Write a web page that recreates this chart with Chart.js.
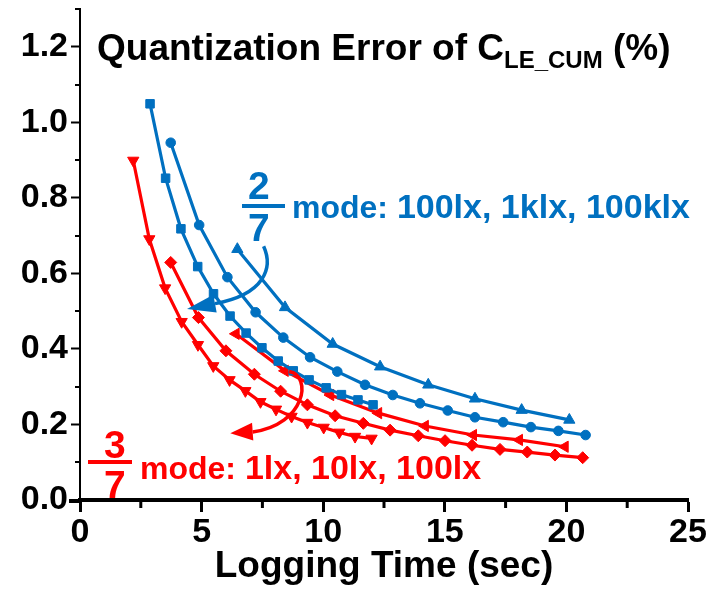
<!DOCTYPE html>
<html><head><meta charset="utf-8">
<script src="https://cdn.jsdelivr.net/npm/chart.js@4.4.1/dist/chart.umd.min.js"></script>
<style>
html,body{margin:0;padding:0;background:#fff;}
#wrap{position:relative;width:715px;height:591px;font-family:"Liberation Sans",Arial,sans-serif;font-weight:bold;overflow:hidden;}
#c{position:absolute;left:0;top:0;}
.lbl{position:absolute;white-space:nowrap;line-height:1;}
.bar{position:absolute;height:4px;}
</style></head><body>
<div id="wrap">
<canvas id="c" width="715" height="591"></canvas>
<div class="lbl" style="left:97px;top:29px;font-size:37px;color:#000;">Quantization Error of C<span style="font-size:24px;position:relative;top:8px;">LE_CUM</span><span> (%)</span></div>

<div class="lbl" style="left:248px;top:166px;font-size:39px;color:#0070C0;">2</div>
<div class="bar" style="left:242px;top:204px;width:43px;background:#0070C0;"></div>
<div class="lbl" style="left:248px;top:208px;font-size:39px;color:#0070C0;">7</div>
<div class="lbl" style="left:292px;top:189px;font-size:32px;color:#0070C0;">mode<span>:</span> <span style="font-size:34px;">100lx, 1klx, 100klx</span></div>

<div class="lbl" style="left:104px;top:425px;font-size:39px;color:#FF0000;">3</div>
<div class="bar" style="left:88px;top:460px;width:44px;background:#FF0000;"></div>
<div class="lbl" style="left:104px;top:465px;font-size:39px;color:#FF0000;">7</div>
<div class="lbl" style="left:140px;top:450px;font-size:32px;color:#FF0000;">mode<span>:</span> <span style="font-size:34px;">1lx, 10lx, 100lx</span></div>
</div>
<script>
// ---- data (x = logging time in sec, y = quantization error in %) ----
const blue100lxX = [2.88,3.52,4.15,4.84,5.49,6.17,6.83,7.48,8.15,8.77,9.42,10.12,10.75,11.43,12.05];
const blue100lxY = [1.049,0.852,0.718,0.618,0.546,0.487,0.442,0.403,0.368,0.342,0.318,0.297,0.279,0.265,0.252];
const blue1klxX = [3.73,4.90,6.06,7.22,8.36,9.46,10.58,11.72,12.86,13.98,15.12,16.24,17.40,18.54,19.67,20.79];
const blue1klxY = [0.946,0.728,0.590,0.497,0.430,0.378,0.340,0.305,0.278,0.256,0.237,0.219,0.206,0.193,0.183,0.172];
const blue100klxX = [6.47,8.43,10.39,12.34,14.32,16.24,18.16,20.12];
const blue100klxY = [0.664,0.510,0.413,0.353,0.305,0.268,0.238,0.212];
const red1lxX = [2.19,2.85,3.50,4.18,4.85,5.48,6.15,6.80,7.42,8.06,8.70,9.35,10.02,10.66,11.31,11.99];
const red1lxY = [0.899,0.691,0.561,0.472,0.411,0.355,0.318,0.289,0.260,0.240,0.221,0.205,0.192,0.179,0.168,0.163];
const red10lxX = [3.73,4.87,6.00,7.17,8.25,9.35,10.49,11.65,12.75,13.91,15.01,16.12,17.27,18.39,19.53,20.67];
const red10lxY = [0.629,0.483,0.395,0.333,0.288,0.252,0.223,0.203,0.185,0.170,0.157,0.145,0.134,0.127,0.119,0.112];
const red100lxX = [6.41,8.43,10.30,12.27,14.19,16.17,18.06,19.94];
const red100lxY = [0.440,0.342,0.278,0.230,0.196,0.172,0.159,0.141];

const xMajorTicks = [0,5,10,15,20,25];
const yMajorTicks = [0.0,0.2,0.4,0.6,0.8,1.0,1.2];

const BLUE = '#0070C0', RED = '#FF0000';
const FONT = '"Liberation Sans", Arial, sans-serif';

function pts(xs, ys){ return xs.map((x,i)=>({x, y: ys[i]})); }
function ds(label, xs, ys, color, style, rot, r){
  return {label, data: pts(xs,ys), borderColor: color, backgroundColor: color,
    showLine: true, borderWidth: 3.2, tension: 0, pointStyle: style, pointRotation: rot,
    pointRadius: r, pointHoverRadius: r, pointBorderWidth: 1};
}

const minorTicks = {
  id: 'minorTicks',
  afterDraw(chart){
    const ctx = chart.ctx, xs = chart.scales.x, ys = chart.scales.y, ca = chart.chartArea;
    ctx.save();
    ctx.strokeStyle = '#000';
    ctx.lineWidth = 2;
    for (let v = 0.1; v < 1.35; v += 0.2){
      const p = Math.round(ys.getPixelForValue(v));
      ctx.beginPath(); ctx.moveTo(ca.left - 5, p); ctx.lineTo(ca.left, p); ctx.stroke();
    }
    ctx.lineWidth = 3;
    for (let v = 2.5; v < 25; v += 5){
      const p = xs.getPixelForValue(v);
      ctx.beginPath(); ctx.moveTo(p, ca.bottom); ctx.lineTo(p, ca.bottom + 8); ctx.stroke();
    }
    ctx.lineWidth = 4;
    ctx.beginPath(); ctx.moveTo(ca.left - 11, ca.bottom + 1); ctx.lineTo(ca.left, ca.bottom + 1); ctx.stroke();
    ctx.restore();
  }
};

function arrow(ctx, color, P, head){
  ctx.save();
  ctx.strokeStyle = color; ctx.fillStyle = color; ctx.lineWidth = 3.5;
  ctx.beginPath(); ctx.moveTo(P[0][0],P[0][1]);
  ctx.bezierCurveTo(P[1][0],P[1][1],P[2][0],P[2][1],P[3][0],P[3][1]);
  ctx.stroke();
  const [tx,ty,bx,by,hw] = head;
  const dx = tx-bx, dy = ty-by, L = Math.hypot(dx,dy), nx = -dy/L, ny = dx/L;
  ctx.beginPath(); ctx.moveTo(tx,ty); ctx.lineTo(bx+nx*hw, by+ny*hw); ctx.lineTo(bx-nx*hw, by-ny*hw); ctx.closePath(); ctx.fill();
  ctx.restore();
}
const arrows = {
  id: 'arrows',
  afterDatasetsDraw(chart){
    const xs = chart.scales.x, ys = chart.scales.y;
    const m = (x,y)=>[xs.getPixelForValue(x), ys.getPixelForValue(y)];
    const ctx = chart.ctx;
    const b = [m(7.55,0.672), m(7.95,0.615), m(7.60,0.545), m(5.55,0.520)];
    const bt = m(4.40,0.506), bb = m(5.55,0.520);
    arrow(ctx, BLUE, b, [bt[0],bt[1],bb[0],bb[1],9]);
    const r = [m(8.60,0.340), m(9.55,0.330), m(9.30,0.200), m(7.10,0.180)];
    const rt = m(6.18,0.177), rb = m(7.10,0.181);
    arrow(ctx, RED, r, [rt[0],rt[1],rb[0],rb[1],9]);
  }
};

new Chart(document.getElementById('c'), {
  type: 'scatter',
  data: { datasets: [
    ds('100lx (2/7)', blue100lxX, blue100lxY, BLUE, 'rect', 0, 6),
    ds('1klx (2/7)', blue1klxX, blue1klxY, BLUE, 'circle', 0, 4.8),
    ds('100klx (2/7)', blue100klxX, blue100klxY, BLUE, 'triangle', 0, 6.5),
    ds('1lx (3/7)', red1lxX, red1lxY, RED, 'triangle', 180, 6.5),
    ds('10lx (3/7)', red10lxX, red10lxY, RED, 'rectRot', 0, 6),
    ds('100lx (3/7)', red100lxX, red100lxY, RED, 'triangle', -90, 6.5)
  ]},
  options: {
    responsive: false, animation: false, devicePixelRatio: 1,
    layout: { padding: { top: 9, right: 27, left: 0, bottom: 0 } },
    plugins: { legend: { display: false }, tooltip: { enabled: false }, title: { display: false } },
    scales: {
      x: {
        type: 'linear', min: 0, max: 25,
        afterFit(s){ s.height = 91; s.paddingLeft = 0; },
        afterBuildTicks(s){ s.ticks = xMajorTicks.map(v=>({value:v})); },
        ticks: { color: '#000', font: { family: FONT, size: 34, weight: 'bold' }, padding: 0, maxRotation: 0 },
        grid: { drawOnChartArea: false, drawTicks: true, tickLength: 12, tickWidth: 3, tickColor: '#000' },
        border: { display: true, color: '#000', width: 4 },
        title: { display: true, text: 'Logging Time (sec)', color: '#000', font: { family: FONT, size: 37, weight: 'bold' }, padding: { top: 0, bottom: 2 } }
      },
      y: {
        type: 'linear', min: 0, max: 1.3,
        afterFit(s){ s.width = 80; s.paddingTop = 0; s.paddingBottom = 0; },
        afterBuildTicks(s){ s.ticks = yMajorTicks.map(v=>({value:v})); },
        ticks: { color: '#000', font: { family: FONT, size: 34, weight: 'bold' }, padding: 3, callback: v => v.toFixed(1) },
        grid: { drawOnChartArea: false, drawTicks: true, tickLength: 9, tickWidth: 2, tickColor: '#000' },
        border: { display: true, color: '#000', width: 2 }
      }
    }
  },
  plugins: [minorTicks, arrows]
});
</script>
</body></html>
